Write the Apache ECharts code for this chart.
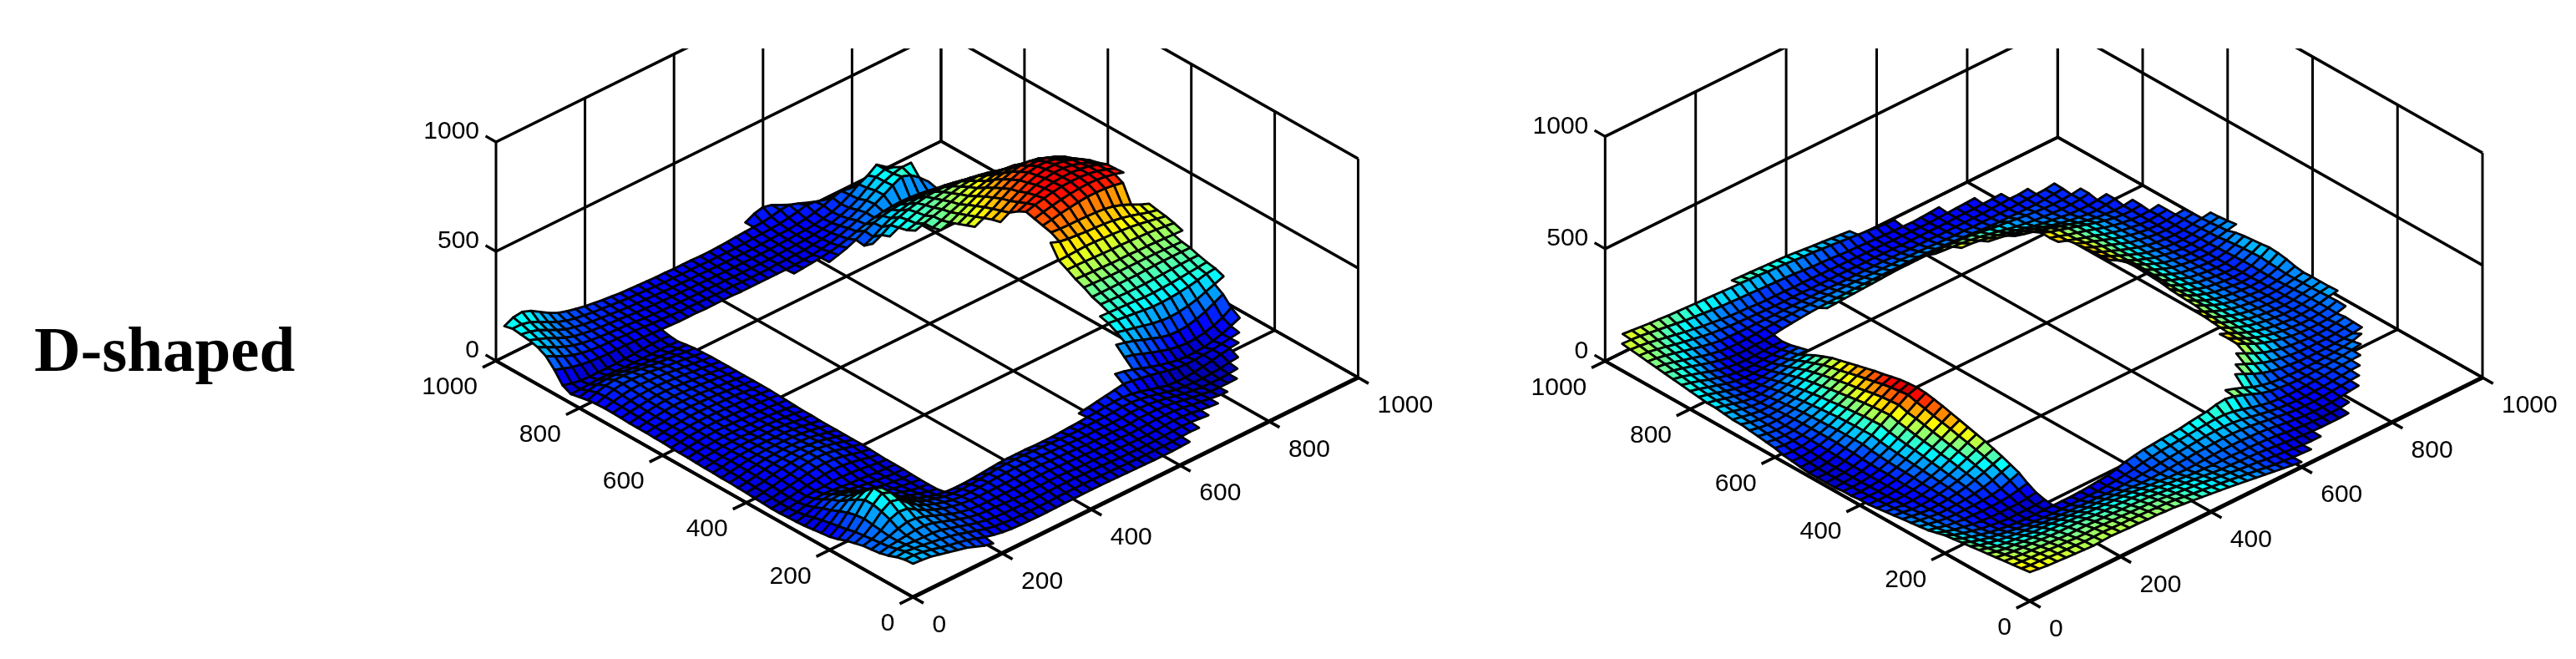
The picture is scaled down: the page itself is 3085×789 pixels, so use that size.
<!DOCTYPE html>
<html>
<head>
<meta charset="utf-8">
<style>html,body{margin:0;background:#fff}#main{width:3085px;height:789px}</style>
<script src="https://cdn.jsdelivr.net/npm/echarts@6/dist/echarts.min.js"></script>
</head>
<body>
<div id="main"></div>
<script>
var title = 'D-shaped';
var floorTicks = [0, 200, 400, 600, 800, 1000];
var heightTicks = [0, 500, 1000];
var cellStep = 20;
var jetColors = ['#000080', '#0000ff', '#0080ff', '#00ffff', '#80ff80', '#ffff00', '#ff8000', '#ff0000', '#800000'];
var leftColorRange = [0, 500];
var rightColorRange = [0, 200];

// each row: [v index, first u index, heights...], cell = 20 units
var leftRows = [
[0,0,153,150,145,135,125,115,105,90,75,65],
[1,0,150,150,145,135,125,115,108,98,85,72,62,55,50,48,47,46,46,46,47,47,48,48,48,47,46,45,44,43,42,42,42,44,46],
[2,0,140,145,140,135,128,122,115,105,92,80,68,60,55,52,50,50,50,50,52,52,52,52,52,50,50,48,47,46,45,45,45,46,48,50,48],
[3,0,125,135,135,132,130,128,122,110,98,85,74,66,60,58,56,56,55,56,58,58,58,58,56,55,54,52,50,50,48,48,48,50,52,54,52,48,44],
[4,0,115,125,130,135,140,140,132,118,104,90,78,70,66,65,62,60,60,62,62,64,64,62,60,58,58,56,55,54,52,52,52,54,56,58,56,52,46,40,36],
[5,0,110,120,130,145,155,152,140,124,108,92,80,72,68,66,66,66,66,68,68,70,70,68,66,64,62,60,60,58,58,56,58,60,62,62,60,55,48,42,36,30,28],
[6,0,105,115,135,165,180,175,150,128,110,95,84,76,72,70,70,70,70,72,74,74,74,72,70,68,66,64,62,62,62,60,62,66,66,65,62,56,48,40,34,28,25,25,26],
[7,0,95,110,140,180,205,195,160,130,110,94,82,72,68,68,70,72,74,76,78,78,76,74,72,70,68,66,65,65,65,64,66,70,70,68,62,54,45,36,30,26,24,24,26,30],
[8,0,85,105,145,190,222,205,165,130,106,88,76,66,60,60,62,66,70,74,76,76,76,74,72,70,68,66,66,68,68,68,70,74,74,70,62,52,42,32,28,25,24,26,30,36,40],
[9,0,70,95,140,190,225,205,160,122,96,78,64,52,45,42,42,45,48,52,56,58,58,58,56,56,56,58,60,62,66,68,72,76,76,72,62,52,40,30,27,26,30,36,44,52,60,65],
[10,0,60,88,130,170,190,170,135,105,84,68,56,46,38],
[10,28,62,68,75,82,88,95,90,82,75,66,56,48,45,45,48,52,58,64,70],
[11,0,55,80,115,145,155,140,115,90,74,62,50,42,38],
[11,33,120,112,100,85,72,60,50,42,38,38,42,50,62,78,95],
[12,0,50,72,98,120,125,112,94,78,66,56,48,42,38],
[12,35,135,125,110,95,82,70,62,58,60,66,78,95,120],
[13,0,45,62,85,105,108,100,85,72,60,52,46,42,40],
[13,35,170,160,148,132,118,104,94,92,96,106,120,140,160],
[14,0,42,52,68,85,88,80,70,62,56,50,46,42,42],
[14,36,185,175,165,155,145,138,135,138,145,155,170,185,200],
[15,0,40,45,55,65,68,65,60,56,54,50,46,44,42],
[15,36,205,200,195,190,185,180,180,182,186,192,200,210,215],
[16,0,38,42,48,55,60,62,64,64,62,58,52,46,42],
[16,36,215,212,210,208,205,202,202,204,206,210,214,218,222],
[17,0,38,42,48,56,62,68,74,76,74,68,60,50,44],
[17,37,228,226,224,222,222,222,224,226,228,230,232,232],
[18,0,40,45,52,60,68,76,82,84,82,74,64,54,46],
[18,37,240,240,240,240,240,240,242,244,245,245,245,244],
[19,0,42,48,56,65,72,80,86,88,86,78,68,58,48],
[19,37,262,260,258,256,256,256,256,256,256,254,252,250],
[20,0,45,50,58,68,76,82,86,88,86,80,70,58,48],
[20,37,278,276,274,272,270,270,270,268,268,266,264,262,260],
[21,0,46,52,60,70,76,80,84,84,82,78,68,58,48],
[21,37,300,300,298,296,294,292,292,290,288,286,282,278,272],
[22,0,48,54,62,70,76,78,80,80,78,74,66,56,48],
[22,37,320,322,324,326,325,322,320,316,312,306,298,290,282],
[23,0,48,55,62,70,74,76,76,76,74,70,64,56,48],
[23,37,380,365,358,354,350,348,345,340,332,322,310,298,288],
[24,0,50,56,64,70,72,74,74,72,72,68,62,54,48],
[24,38,385,382,380,380,378,376,372,364,350,332,312,296],
[25,0,50,56,62,68,72,72,70,70,70,66,60,54,50],
[25,38,395,402,410,416,422,426,426,424,418,410],
[26,0,52,58,64,68,70,70,68,68,68,64,60,56,50],
[26,38,405,415,424,432,438,442,444,442,436,428,415],
[27,0,54,60,64,68,70,70,68,66,66,64,60,56,52],
[27,38,415,426,436,444,450,452,452,448,440,428,412],
[28,0,54,60,66,70,72,72,70,68,66,64,62,58,54],
[28,38,395,412,428,440,448,452,452,448,440,428,410],
[29,0,56,62,68,72,74,74,72,70,68,66,64,60,56],
[29,37,345,368,395,418,434,444,450,450,444,432,415,395],
[30,0,58,64,70,74,76,76,74,72,70,68,66,62,58],
[30,37,335,355,380,402,422,436,444,446,440,428,410,385],
[31,0,58,64,70,74,78,78,76,74,72,70,66,62,58],
[31,36,300,320,342,368,392,412,428,436,436,428,412,392,368],
[32,0,60,66,70,76,80,80,78,76,74,70,66,62,58],
[32,36,285,305,328,352,374,394,410,418,420,412,398,378,350],
[33,0,60,66,72,78,82,82,80,78,74,70,66,62,58],
[33,36,270,290,312,335,355,374,388,396,396,388,372,345],
[34,0,60,68,74,80,84,84,82,78,76,72,68,62,58],
[34,35,240,255,275,295,315,334,350,360,364,362,350,332,310],
[35,0,62,70,76,82,86,86,84,80,76,72,68,62,58],
[35,35,230,243,260,276,294,310,322,332,336,332,320,304,280],
[36,0,64,72,80,86,88,88,86,82,78,72,68,62,58],
[36,34,215,228,240,252,266,280,294,302,306,304,296,282,265,240],
[37,0,64,74,84,90,92,90,88,84,78,72,68,62,58],
[37,34,195,206,222,238,252,264,274,280,282,276,264,248,228],
[38,0,62,76,88,94,94,92,88,82,76,72,66,60,56],
[38,33,165,185,200,215,228,238,248,254,256,252,244,232,218,208],
[39,0,58,72,84,90,90,86,80,74,70,66,62,58,54],
[39,32,130,150,175,192,206,216,224,228,228,224,216,206,196,188],
[40,0,50,60,68,72,72,68,62,58,56,54,52,50,48],
[40,32,100,120,145,165,180,190,196,198,198,194,186,178,168,160],
[41,0,42,44,46,48,48,46,44,44,44,44,44,44,42],
[41,29,64,75,88,105,125,142,154,162,166,166,162,156,150,142,135,126],
[42,0,60,50,42,40,40,40,40,42,44,46,48,48,46],
[42,26,50,54,58,62,68,76,88,102,114,124,132,136,138,136,132,126,118,110],
[43,0,110,95,82,74,68,64,62,62,62,60,58,56,54,52,50,50,50,48,48,48,48,46,46,46,46,46,46,48,50,54,60,68,80,94,110,126,144,166,190,210,196,166,128],
[44,0,150,130,110,95,85,78,74,72,70,68,66,64,60,58,56,54,54,52,52,50,50,50,48,48,48,48,50,50,52,54,58,64,72,84,96,116,140,165,186,202,212,212],
[45,0,170,150,130,112,98,88,82,78,74,72,70,66,62,60,58,56,56,54,54,54,52,52,50,50,50,50,50,52,54,56,58,62,68,76,88,104,125,155,185,200,190],
[46,0,180,165,150,130,112,98,90,84,80,76,74,70,66,64,62,60,58,58,56,56,54,54,52,52,52,52,52,54,56,58,60,62,66,74,84,100,122,150,170,200,170],
[47,0,185,178,165,145,125,108,98,90,84,80,76,72,68,66,64,62,60,58,58,56,56,56,54,54,54,54,54,56,58,60,62,66,72,80,92,108,118,110,92],
[48,0,190,190,180,160,140,120,106,96,90,84,80,76,72,68,66,64,62,60,60,58,58,58,56,56,56,56,58,60,62,64,68,74,82,92,88,76,64],
[49,0,180,200,205,190,165,140,120,108,98,90,84,78,74,70,68,66,64,62,62,60,60,60,58,58,60,62,66,68,70,72,78,88,92,78,62],
[50,28,70,90,100,90,70]
];

var rightRows = [
[0,0,130,125,120,118,115,112,110,108,110,112,110,108,108,105,105,102,100,95,90,85,80,75,70,64,58,52,46,40,34,28,22],
[1,0,125,120,118,115,112,110,108,106,106,108,106,104,104,102,100,98,96,92,86,80,76,70,65,60,54,48,42,36,30,26,22,20,18],
[2,0,120,115,112,110,108,105,103,100,100,102,100,98,97,95,94,92,90,85,80,76,72,68,62,56,52,46,42,38,32,28,24,20,16,14,14],
[3,0,115,110,105,103,100,98,95,93,93,94,92,90,89,87,85,84,82,78,73,68,64,60,56,50,46,44,42,40,38,34,30,26,22,18,16,14,14,14,16],
[4,0,110,103,98,95,92,90,87,85,85,85,83,80,79,78,76,75,72,68,64,60,56,52,48,46,44,44,44,42,42,40,38,34,28,24,20,18,16,16,18,24],
[5,0,105,95,88,85,80,78,76,75,73,72,70,68,67,65,64,62,60,56,52,50,46,44,42,44,46,48,50,50,50,48,46,42,36,30,26,22,20,20,22,26,32,36],
[6,0,100,88,78,72,68,65,60,60,58,56,54,52,50,50,48,46,45,42,40,40,42,44,48,50,54,56,58,60,60,58,54,48,42,36,30,26,24,24,26,30,34,38,40],
[7,0,95,80,70,62,55,50,46,44,40,38,36,34,34,32,32,30,30,32,34,38,42,48,52,56,60,64,68,70,70,68,62,54,46,38,32,28,26,26,28,30,34,38,42,44],
[8,0,90,74,62,52,45,38,32,28,25,22,20,20,20,20,20,20,24,28,34,40,48,54,60,64,68,72,76,80,82,82,76,66,54,44,36,32,30,30,32,34,36,40,44,46,48],
[9,0,85,68,55,45,35,28,22,18,15,15,15,15,15,15,17,20,24,28,38,50,58,65,68,72,75,78,85,90,95,105,110,102,88,72,56,46,40,36,34,34,36,38,40,44,50,56],
[10,0,80,62,50,40,30,24,18,15,15,15,15,20],
[10,31,108,95,80,62,50,42,38,36,34,34,34,36,38,42,48,60],
[11,0,70,56,44,36,28,24,20,20,20,20,24,30],
[11,33,118,100,80,64,52,44,40,36,34,34,34,36,38,42,48],
[12,0,60,50,40,34,30,28,26,26,28,32,40,50],
[12,34,120,102,84,68,56,48,42,38,36,36,36,38,44,50],
[13,0,55,46,38,32,30,30,30,32,36,44,60,75],
[13,35,128,108,88,72,60,50,44,40,36,36,38,44,52],
[14,0,50,42,36,30,30,32,34,40,48,60,76,90],
[14,36,130,110,90,74,62,52,44,40,38,38,40,46,58],
[15,0,45,38,32,28,30,34,40,48,60,74,90,105],
[15,36,132,112,92,76,64,54,46,42,38,38,42,48,60],
[16,0,40,34,28,26,30,36,44,54,68,84,102,118],
[16,36,130,114,94,78,64,54,46,42,38,38,42,48,58,64],
[17,0,35,30,26,26,30,38,48,60,76,94,112,130],
[17,37,118,96,80,66,56,48,42,38,38,42,48,56,62],
[18,0,30,26,24,26,32,40,52,66,84,102,122,140],
[18,37,122,98,82,68,56,48,42,38,36,40,48,54,62],
[19,0,25,24,22,26,32,44,56,72,90,110,130,150],
[19,37,126,102,84,68,56,48,42,38,36,38,46,54,62],
[20,0,25,22,22,26,34,46,60,78,98,118,140,160],
[20,37,130,104,86,70,58,48,42,38,36,38,44,52,60,68],
[21,0,20,20,22,26,36,48,64,84,104,126,148,170],
[21,38,110,90,72,58,48,42,38,34,36,42,52,66],
[22,0,20,18,20,26,36,50,68,88,110,134,156,180],
[22,38,112,90,72,58,48,42,38,34,36,42,56,76],
[23,0,15,16,20,28,38,54,72,94,118,142,166,188],
[23,38,115,92,74,60,48,42,36,32,34,42,58,82],
[24,0,15,16,20,28,40,58,78,100,124,148,174,195],
[24,38,118,92,74,60,48,42,36,32,34,44,62,85],
[25,0,15,15,20,30,45,65,85,110,135,160,185,198],
[25,38,125,94,76,62,48,42,36,32,32,44,60,80],
[26,0,15,16,22,32,46,64,84,108,132,156,180,195],
[26,38,128,96,76,62,48,42,36,32,32,42,58,76],
[27,0,20,20,25,34,48,64,84,106,128,152,175,190],
[27,38,130,98,78,62,48,42,36,32,32,40,54,72],
[28,0,25,24,28,36,48,64,82,102,124,146,168,182],
[28,38,132,100,80,64,50,42,36,32,32,38,50,66],
[29,0,30,28,30,38,48,62,80,98,118,138,158,172],
[29,38,130,102,82,66,50,42,36,32,32,36,44,54,62],
[30,0,40,34,34,38,48,60,76,94,112,130,150,165],
[30,37,140,118,98,80,66,52,44,36,32,32,36,42,50,56],
[31,0,45,38,36,38,48,58,72,88,106,124,142,155],
[31,37,136,116,98,82,66,52,44,36,32,30,34,40,46,52],
[32,0,50,42,38,38,46,56,68,84,100,116,132,145],
[32,37,134,114,98,82,68,54,44,36,32,30,32,38,44,50],
[33,0,55,46,40,40,44,52,64,78,92,108,122,135],
[33,37,132,114,98,84,70,54,46,38,32,30,32,38,44],
[34,0,60,50,42,38,42,48,58,72,86,100,114,125],
[34,37,128,112,98,84,70,56,46,38,32,30,32,38,42],
[35,0,60,52,44,38,38,44,52,64,78,90,104,115],
[35,36,134,120,106,94,82,68,56,46,38,32,30,34,38],
[36,0,65,56,46,38,34,38,46,56,68,80,90,100],
[36,36,130,118,104,94,82,70,56,46,38,32,30,32,38],
[37,0,70,60,48,38,32,32,38,46,56,66,76,85],
[37,36,132,116,104,92,80,68,56,46,38,32,32,36],
[38,0,70,62,50,40,32,28,30,36,44,52,60,65],
[38,34,136,124,114,102,92,80,68,56,46,38,34,30,32,38],
[39,0,75,66,54,42,32,26,24,26,32,38,42,45,45],
[39,32,130,124,116,106,96,86,74,62,52,44,38,32,30,34,40],
[40,0,80,70,58,46,34,26,20,20,22,26,30,34,35],
[40,30,120,118,112,104,96,88,78,68,58,50,44,38,32,30,30,34,40],
[41,0,85,76,64,50,38,28,20,17,17,20,22,24,25],
[41,28,112,108,104,100,94,88,80,72,62,54,48,42,38,34,32,32,36,42],
[42,0,90,82,70,58,44,32,24,18,16,16,18,20,20],
[42,17,68,70,72,74,76,78,80,82,84,84,84,84,84,82,80,78,74,68,62,56,52,46,42,38,34,32,32,36,42],
[43,0,95,88,78,66,54,42,32,24,20,20,22,24,28,34,38,42,46,48,50,52,52,54,54,54,54,54,54,54,54,52,50,48,46,42,40,36,34,32,32,30,30,30,32,36,40],
[44,0,100,94,84,72,62,50,40,32,28,26,28,30,34,36,38,40,42,42,44,44,44,44,44,42,42,42,40,40,38,38,36,34,32,30,30,28,28,28,28,28,30,32,34,36,42],
[45,0,105,100,92,82,72,62,52,44,38,36,34,34,34,34,34,34,34,34,34,34,34,32,32,32,32,32,32,30,30,28,28,28,26,26,26,26,26,26,28,30,32,32,36],
[46,0,110,106,98,90,80,72,64,56,50,46,42,40,38,36,34,32,32,32,32,30,30,30,30,30,28,28,28,26,26,24,24,24,24,24,24,26,26,26,28,30,32],
[47,0,115,112,106,98,90,82,74,68,60,56,50,46,44,42,38,36,36,36,34,34,34,32,32,30,30,28,28,26,26,24,24,24,22,22,24,26,28,30,32],
[48,0,120,118,114,108,102,96,90,84,80,76,72,68,66,64,62,60,58,56,54,52,48,44,42,40,36,34,32,30,28,26,24,24,22,24,26,30],
[49,1,122,118,114,110,108,104,102,100,98,96,94,92,90,88,86,84,80,78,76,72,68,66,62,58,54,50,46,42,38,34,32],
[50,14,80,78,76,74,72,70,68,64,60,56,52,48,44,40]
];

// corners of each box as they sit on the page: front corner + direction of each axis
var leftView = { origin: [1093.5, 715], uDir: [533, -263], vDir: [-499.5, -283], zDir: [0, -262] };
var rightView = { origin: [2431, 720], uDir: [542, -268], vDir: [-508.7, -287.7], zDir: [0, -269] };

function project(view, u, v, z) {
    return [
        view.origin[0] + view.uDir[0] * u / 1000 + view.vDir[0] * v / 1000,
        view.origin[1] + view.uDir[1] * u / 1000 + view.vDir[1] * v / 1000 + view.zDir[1] * z / 1000
    ];
}

// grid rows -> one item per cell, far cells first so near ones paint over them
function buildCells(rows) {
    var heights = {};
    rows.forEach(function(row) {
        for (var k = 2; k < row.length; k++) heights[row[0] + '_' + (row[1] + k - 2)] = row[k];
    });
    var cells = [];
    for (var j = 0; j < 50; j++) {
        for (var i = 0; i < 50; i++) {
            var a = heights[j + '_' + i], b = heights[j + '_' + (i + 1)];
            var c = heights[(j + 1) + '_' + (i + 1)], d = heights[(j + 1) + '_' + i];
            if (a === undefined || b === undefined || c === undefined || d === undefined) continue;
            cells.push([i, j, a, b, c, d]);
        }
    }
    cells.sort(function(p, q) { return (q[0] + q[1]) - (p[0] + p[1]); });
    return cells;
}

// box lines: [u1, v1, z1, u2, v2, z2, width]
function buildFrame() {
    var lines = [];
    floorTicks.forEach(function(t) {
        lines.push([t, 0, 0, t, 1000, 0, 3.6]);
        lines.push([0, t, 0, 1000, t, 0, 3.6]);
        lines.push([t, 1000, 0, t, 1000, 1000, 3]);
        lines.push([1000, t, 0, 1000, t, 1000, 3]);
        lines.push([t, 0, 0, t, -25, 0, 3.6]);
        lines.push([0, t, 0, -30, t, 0, 3.6]);
    });
    heightTicks.forEach(function(t) {
        lines.push([0, 1000, t, 1000, 1000, t, 3.6]);
        lines.push([1000, 0, t, 1000, 1000, t, 3.6]);
        lines.push([0, 1000, t, 0, 1025, t, 3.2]);
    });
    lines.push([0, 0, 0, 1000, 0, 0, 5]);
    lines.push([0, 0, 0, 0, 1000, 0, 4]);
    return lines;
}

function panelSeries(view, rows) {
    var labels = [];
    floorTicks.forEach(function(t) {
        labels.push([0, t]);
        labels.push([1, t]);
    });
    heightTicks.forEach(function(t) { labels.push([2, t]); });

    return [{
        type: 'custom',
        coordinateSystem: 'cartesian2d',
        clip: true,
        silent: true,
        data: buildFrame(),
        renderItem: function(params, api) {
            var p1 = api.coord(project(view, api.value(0), api.value(1), api.value(2)));
            var p2 = api.coord(project(view, api.value(3), api.value(4), api.value(5)));
            return {
                type: 'line',
                shape: { x1: p1[0], y1: p1[1], x2: p2[0], y2: p2[1] },
                style: { stroke: '#000', lineWidth: api.value(6) }
            };
        }
    }, {
        type: 'custom',
        coordinateSystem: 'cartesian2d',
        silent: true,
        progressive: 0,
        encode: { x: 0, y: 1 },
        data: buildCells(rows),
        renderItem: function(params, api) {
            var i = api.value(0), j = api.value(1);
            var corners = [[i, j, 2], [i + 1, j, 3], [i + 1, j + 1, 4], [i, j + 1, 5]];
            return {
                type: 'polygon',
                shape: {
                    points: corners.map(function(c) {
                        return api.coord(project(view, c[0] * cellStep, c[1] * cellStep, api.value(c[2])));
                    })
                },
                style: { fill: api.visual('color'), stroke: '#000', lineWidth: 2.8, lineJoin: 'round' }
            };
        }
    }, {
        type: 'custom',
        coordinateSystem: 'cartesian2d',
        silent: true,
        data: labels,
        renderItem: function(params, api) {
            var kind = api.value(0), t = api.value(1), p, dx, dy, align;
            if (kind === 0) { p = project(view, 0, t, 0); dx = -22; dy = 32; align = 'right'; }
            if (kind === 1) { p = project(view, t, 0, 0); dx = 23; dy = 34; align = 'left'; }
            if (kind === 2) { p = project(view, 0, 1000, t); dx = -20; dy = -12; align = 'right'; }
            var pos = api.coord(p);
            return {
                type: 'text',
                x: pos[0] + dx,
                y: pos[1] + dy,
                style: {
                    text: String(t),
                    fill: '#000',
                    font: '30px "Liberation Sans"',
                    textAlign: align,
                    textVerticalAlign: 'middle'
                }
            };
        }
    }];
}

var myChart = echarts.init(document.getElementById('main'), null, { renderer: 'canvas' });

var option = {
    animation: false,
    backgroundColor: '#fff',
    title: {
        text: title,
        left: 41,
        top: 386,
        padding: 0,
        textStyle: { fontFamily: 'Liberation Serif', fontWeight: 'bold', fontSize: 77, color: '#000' }
    },
    grid: { left: 0, right: 0, top: 58, bottom: 0 },
    xAxis: { type: 'value', min: 0, max: 3085, show: false },
    yAxis: { type: 'value', min: 58, max: 789, inverse: true, show: false },
    visualMap: [
        { show: false, type: 'continuous', seriesIndex: 1, dimension: 2, min: leftColorRange[0], max: leftColorRange[1], inRange: { color: jetColors } },
        { show: false, type: 'continuous', seriesIndex: 4, dimension: 2, min: rightColorRange[0], max: rightColorRange[1], inRange: { color: jetColors } }
    ],
    series: panelSeries(leftView, leftRows).concat(panelSeries(rightView, rightRows))
};
myChart.setOption(option);
window.addEventListener('resize', function() {
    myChart.resize();
});
</script>
</body>
</html>
